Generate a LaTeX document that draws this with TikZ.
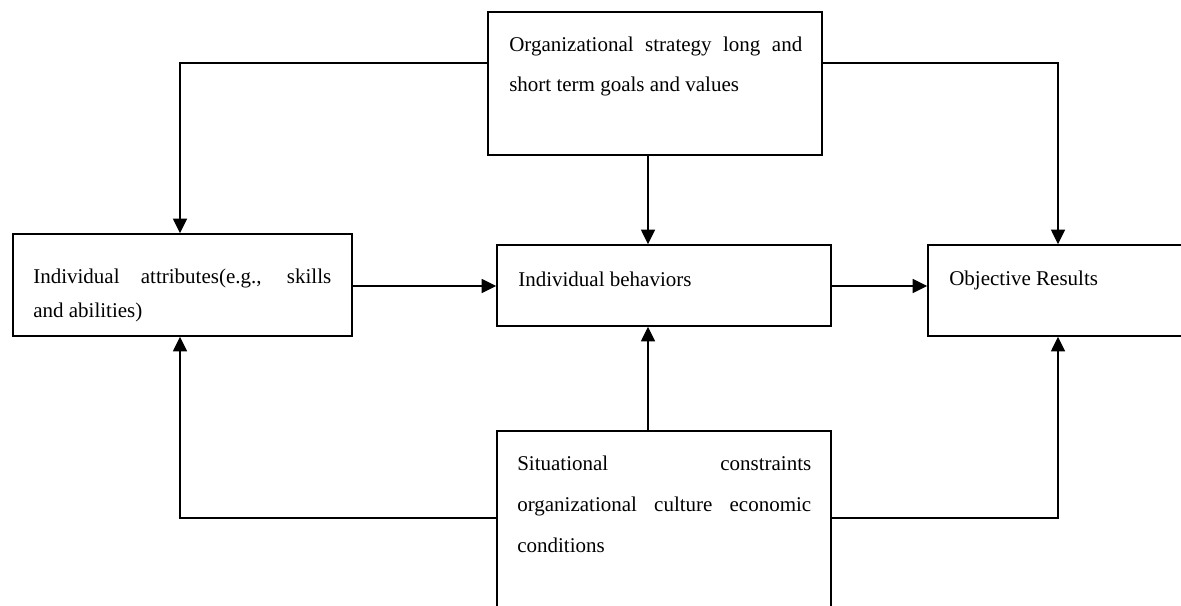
\documentclass[tikz,border=0pt]{standalone}
\usepackage{fontspec}
\setmainfont{Liberation Serif}
\usetikzlibrary{arrows.meta}
\begin{document}
\begin{tikzpicture}[x=0.75pt,y=-0.75pt,
  box/.style={draw,line width=1.1pt,rectangle,inner sep=0pt},
  arr/.style={line width=1.1pt,-{Triangle[length=11pt,width=10.5pt]}},
  txt/.style={anchor=base west,inner sep=0pt,font=\fontsize{15.75}{19}\selectfont}]
\useasboundingbox (0,0) rectangle (1181,606);
\clip (0,0) rectangle (1181,606);
% boxes
\node[box,minimum width=250.5pt,minimum height=107.25pt] (top) at (655,83.5) {};
\node[box,minimum width=254.25pt,minimum height=76.5pt] (left) at (182.5,285) {};
\node[box,minimum width=250.5pt,minimum height=60.75pt] (mid) at (664,285.5) {};
\node[box,minimum width=195pt,minimum height=68.25pt] (right) at (1058,290.5) {};
\node[box,minimum width=250.5pt,minimum height=156.75pt] (bot) at (664,535.5) {};
% texts
\node[txt] (top1) at (509,52) {\makebox[219.75pt][s]{Organizational strategy long and}};
\node[txt] (top2) at (509,92) {short term goals and values};
\node[txt] (left1) at (33,283) {\makebox[223.5pt][s]{Individual attributes(e.g., skills}};
\node[txt] (left2) at (33,317) {and abilities)};
\node[txt] (mid1) at (518,286) {Individual behaviors};
\node[txt] (right1) at (949,285) {Objective Results};
\node[txt] (bot1) at (517,470) {\makebox[220.5pt][s]{Situational constraints}};
\node[txt] (bot2) at (517,511) {\makebox[220.5pt][s]{organizational culture economic}};
\node[txt] (bot3) at (517,552) {conditions};
% guide coordinates
\coordinate (hT) at (0,63);
\coordinate (hB) at (0,518);
\coordinate (hA) at (0,286);
\coordinate (vL) at (180,0);
\coordinate (vM) at (648,0);
% connectors
\draw[arr] (top.west |- hT) -| (vL |- left.north);
\draw[arr] (top.east |- hT) -| (right.north);
\draw[arr] (vM |- top.south) -- (vM |- mid.north);
\draw[arr] (left.east |- hA) -- (mid.west |- hA);
\draw[arr] (mid.east |- hA) -- (right.west |- hA);
\draw[arr] (vM |- bot.north) -- (vM |- mid.south);
\draw[arr] (bot.west |- hB) -| (vL |- left.south);
\draw[arr] (bot.east |- hB) -| (right.south);
\end{tikzpicture}
\end{document}
